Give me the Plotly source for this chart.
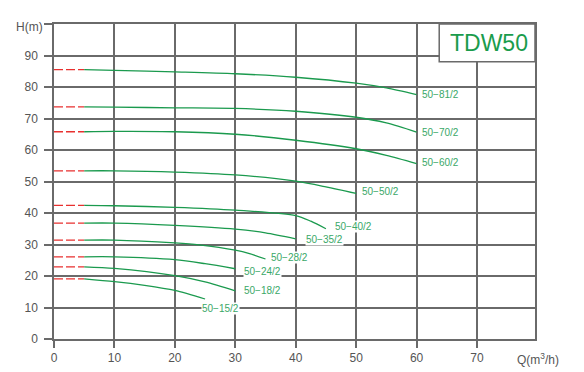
import plotly.graph_objects as go

# ---- data ----
models = ["50-81/2", "50-70/2", "50-60/2", "50-50/2", "50-40/2",
          "50-35/2", "50-28/2", "50-24/2", "50-18/2", "50-15/2"]

q_81 = [0, 5, 10, 20, 30, 40, 50, 55, 60]
h_81 = [85.5, 85.5, 85.3, 84.8, 84.2, 83.1, 81.2, 79.7, 77.6]
q_70 = [0, 5, 10, 20, 30, 40, 50, 55, 60]
h_70 = [73.7, 73.7, 73.6, 73.4, 73.2, 72.3, 70.4, 68.6, 65.7]
q_60 = [0, 5, 10, 20, 30, 40, 50, 55, 60]
h_60 = [65.8, 65.8, 65.9, 65.8, 65.0, 63.1, 60.4, 58.3, 55.7]
q_50 = [0, 5, 10, 20, 30, 40, 45, 50]
h_50 = [53.4, 53.4, 53.4, 53.0, 52.1, 50.1, 48.3, 46.2]
q_40 = [0, 5, 10, 20, 30, 40, 42.5, 45]
h_40 = [42.4, 42.4, 42.3, 41.8, 40.9, 39.2, 37.4, 35.0]
q_35 = [0, 5, 10, 20, 30, 35, 40]
h_35 = [36.8, 36.8, 36.8, 36.1, 34.9, 33.7, 31.8]
q_28 = [0, 5, 10, 20, 24, 30, 32.5, 35]
h_28 = [31.4, 31.4, 31.4, 30.5, 29.9, 28.2, 27.0, 25.4]
q_24 = [0, 5, 10, 20, 25, 30]
h_24 = [26.1, 26.1, 26.1, 25.2, 23.9, 22.3]
q_18 = [0, 5, 10, 20, 25, 30]
h_18 = [22.9, 22.9, 22.4, 20.1, 18.1, 15.3]
q_15 = [0, 5, 10, 15, 20, 25]
h_15 = [19.1, 19.1, 18.2, 17.0, 15.4, 12.7]

series_q = [q_81, q_70, q_60, q_50, q_40, q_35, q_28, q_24, q_18, q_15]
series_h = [h_81, h_70, h_60, h_50, h_40, h_35, h_28, h_24, h_18, h_15]

dash_end_q = 5  # red dashed part of each curve ends here

x_tick_vals = [0, 10, 20, 30, 40, 50, 60, 70]
y_tick_vals = [0, 10, 20, 30, 40, 50, 60, 70, 80, 90]
title_text = "TDW50"

# ---- styles ----
GREEN = "#1b9a4e"
LABEL_GREEN = "#3aa867"
RED = "#e8302f"
GRID = "#6a6a6a"
TXT = "#555555"
FONT = "Liberation Sans, Arial, sans-serif"
X_MAX = 79.6
# label offsets (px) relative to each curve end
label_offsets = {
    "50-81/2": (4, 0), "50-70/2": (4, 0), "50-60/2": (4, 1),
    "50-50/2": (5, 2), "50-40/2": (8, 2), "50-35/2": (9, -1),
    "50-28/2": (5, 1), "50-24/2": (8, -3), "50-18/2": (8, 0),
    "50-15/2": (-4, -9),
}

fig = go.Figure()
annotations = []
for name, qs, hs in zip(models, series_q, series_h):
    qd = [q for q in qs if q <= dash_end_q]
    hd = [h for q, h in zip(qs, hs) if q <= dash_end_q]
    qsld = [q for q in qs if q >= dash_end_q]
    hsld = [h for q, h in zip(qs, hs) if q >= dash_end_q]
    fig.add_trace(go.Scatter(x=qd, y=hd, mode="lines",
                             line=dict(color=RED, width=1.3, dash="9px,3px"),
                             hoverinfo="skip", showlegend=False))
    fig.add_trace(go.Scatter(x=qsld, y=hsld, mode="lines", name=name,
                             line=dict(color=GREEN, width=1.3, shape="spline", smoothing=0.8),
                             showlegend=False))
    dx, dy = label_offsets[name]
    annotations.append(dict(x=qs[-1], y=hs[-1], text=name.replace("-", "−"),
                            showarrow=False, xanchor="left", yanchor="middle",
                            xshift=dx, yshift=dy, bgcolor="white", borderpad=0,
                            font=dict(family=FONT, size=10, color=LABEL_GREEN)))

annotations.append(dict(x=0, y=100, xref="x", yref="y", text="H(m)", showarrow=False,
                        xanchor="right", yanchor="middle", xshift=-9, yshift=-3,
                        font=dict(family=FONT, size=12, color=TXT)))
annotations.append(dict(x=X_MAX, y=0, xref="x", yref="y", text="Q(m<sup>3</sup>/h)",
                        showarrow=False, xanchor="center", yanchor="top", xshift=3,
                        yshift=-10, font=dict(family=FONT, size=12, color=TXT)))
annotations.append(dict(x=(63.75 + X_MAX) / 2, y=94, xref="x", yref="y", text=title_text,
                        showarrow=False, xanchor="center", yanchor="middle", xshift=2,
                        font=dict(family=FONT, size=23, color="#1a9c4c")))

fig.add_shape(type="rect", x0=63.75, x1=X_MAX, y0=88, y1=100, xref="x", yref="y",
              fillcolor="white", line=dict(color=GRID, width=1.5), layer="above")

# the page body adds an 8px offset, so the margins are reduced by that amount
fig.update_layout(
    template="none",
    width=568, height=364,
    margin=dict(l=46, r=41, t=16, b=33, pad=0),
    plot_bgcolor="white", paper_bgcolor="white",
    annotations=annotations,
    xaxis=dict(range=[0, X_MAX], tickvals=x_tick_vals, showgrid=True, gridcolor=GRID,
               automargin=False,
               gridwidth=1.5, zeroline=False, showline=True, linecolor=GRID, linewidth=1.5,
               mirror=True, ticks="outside", ticklen=7, tickcolor=GRID, tickwidth=1.5,
               tickfont=dict(family=FONT, size=12, color=TXT)),
    yaxis=dict(range=[0, 100], tickvals=y_tick_vals + [100], ticktext=[str(v) for v in y_tick_vals] + [""],
               showgrid=True, gridcolor=GRID, automargin=False, ticklabelstandoff=4,
               gridwidth=1.5, zeroline=False, showline=True, linecolor=GRID, linewidth=1.5,
               mirror=True, ticks="outside", ticklen=8, tickcolor=GRID, tickwidth=1.5,
               tickfont=dict(family=FONT, size=12, color=TXT)),
)

fig.write_html("out.html")
